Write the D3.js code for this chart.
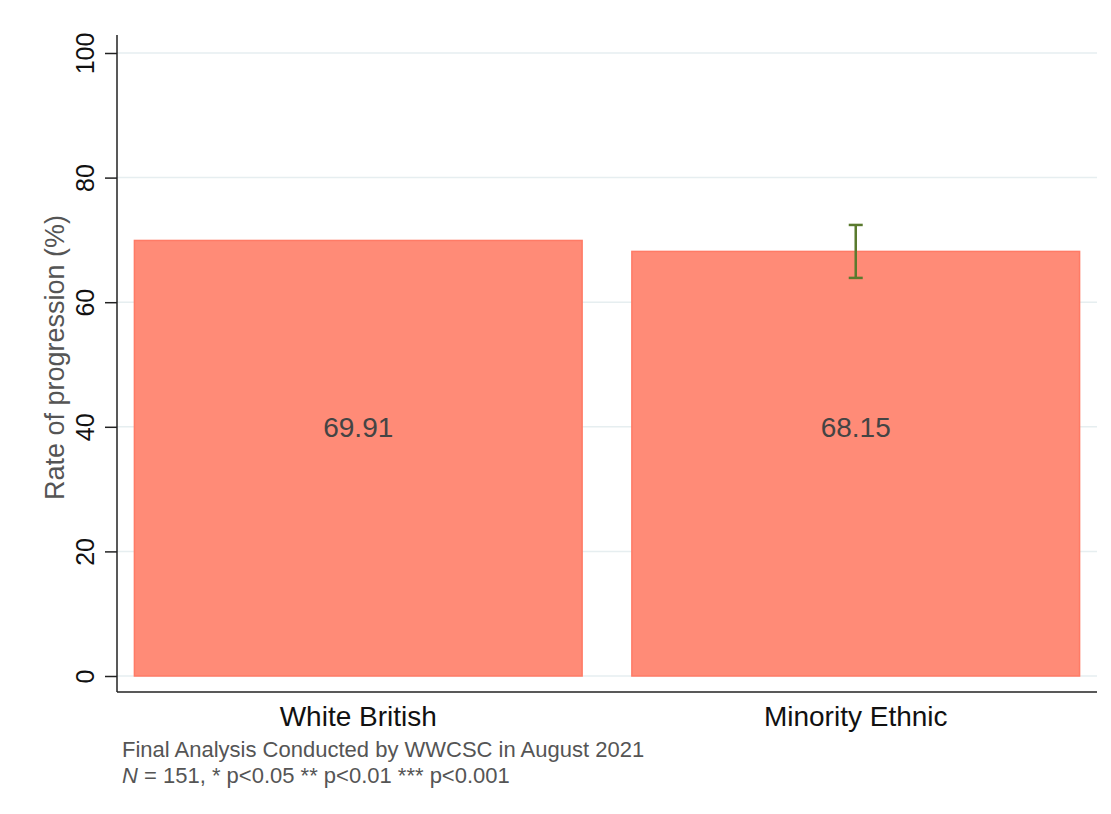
<!DOCTYPE html>
<html>
<head>
<meta charset="utf-8">
<script src="https://cdn.jsdelivr.net/npm/d3@7"></script>
<style>
  body { margin: 0; background: #fff; }
  text { font-family: "Liberation Sans", Arial, sans-serif; }
</style>
</head>
<body>
<svg id="chart" width="1111" height="814"></svg>
<script>
const groups = ["White British", "Minority Ethnic"];
const rates = [69.91, 68.15];
// confidence interval, only the minority group has one drawn
const ciLow = [null, 63.9];
const ciHigh = [null, 72.4];
const yTicks = [0, 20, 40, 60, 80, 100];

const svg = d3.select("#chart");
const plotLeft = 117, plotRight = 1097, plotTop = 53, plotBottom = 676;

const x = d3.scaleBand()
  .domain(groups)
  .range([plotLeft, plotRight])
  .paddingInner(0.1)
  .paddingOuter(0.035);

const y = d3.scaleLinear().domain([0, 100]).range([plotBottom, plotTop]);

// grid
svg.append("g")
  .selectAll("line")
  .data(yTicks)
  .join("line")
    .attr("x1", plotLeft).attr("x2", plotRight)
    .attr("y1", d => y(d)).attr("y2", d => y(d))
    .attr("stroke", "#e6eef0")
    .attr("stroke-width", 1.5);

// bars
svg.append("g")
  .selectAll("rect")
  .data(rates)
  .join("rect")
    .attr("x", (d, i) => x(groups[i]))
    .attr("y", d => y(d))
    .attr("width", x.bandwidth())
    .attr("height", d => y(0) - y(d))
    .attr("fill", "#ff8b77")
    .attr("stroke", "#ff7b66")
    .attr("stroke-width", 1.5);

// value labels
svg.append("g")
  .selectAll("text")
  .data(rates)
  .join("text")
    .attr("x", (d, i) => x(groups[i]) + x.bandwidth() / 2)
    .attr("y", y(40) + 10)
    .attr("text-anchor", "middle")
    .attr("font-size", 28)
    .attr("fill", "#444")
    .text(d => d.toFixed(2));

// error bars
const eb = svg.append("g").attr("stroke", "#5a7a2e").attr("stroke-width", 2.5);
groups.forEach((g, i) => {
  if (ciLow[i] == null) return;
  const cx = x(g) + x.bandwidth() / 2;
  eb.append("line").attr("x1", cx).attr("x2", cx).attr("y1", y(ciLow[i])).attr("y2", y(ciHigh[i]));
  [ciLow[i], ciHigh[i]].forEach(v => {
    eb.append("line").attr("x1", cx - 7).attr("x2", cx + 7).attr("y1", y(v)).attr("y2", y(v));
  });
});

// y axis
const yAxis = svg.append("g")
  .attr("transform", `translate(${plotLeft},0)`)
  .call(d3.axisLeft(y).tickValues(yTicks).tickSize(12).tickPadding(0));
yAxis.select(".domain").attr("d", `M0,35V692`).attr("stroke", "#222").attr("stroke-width", 1.5);
yAxis.selectAll(".tick line").attr("stroke", "#222").attr("stroke-width", 1.5);
yAxis.selectAll(".tick text")
  .attr("transform", "translate(-32,0) rotate(-90)")
  .attr("x", 0).attr("dy", "0.35em")
  .attr("text-anchor", "middle")
  .attr("font-size", 25)
  .attr("fill", "#111");

// x axis line
svg.append("line")
  .attr("x1", plotLeft).attr("x2", plotRight)
  .attr("y1", 692).attr("y2", 692)
  .attr("stroke", "#222").attr("stroke-width", 1.5);

// x labels
svg.append("g")
  .selectAll("text")
  .data(groups)
  .join("text")
    .attr("x", d => x(d) + x.bandwidth() / 2)
    .attr("y", 726)
    .attr("text-anchor", "middle")
    .attr("font-size", 28)
    .attr("fill", "#111")
    .text(d => d);

// y label
svg.append("text")
  .attr("transform", `translate(64,${y(50) - 7}) rotate(-90)`)
  .attr("text-anchor", "middle")
  .attr("font-size", 27)
  .attr("fill", "#555")
  .text("Rate of progression (%)");

// notes
svg.append("text")
  .attr("x", 122).attr("y", 757)
  .attr("font-size", 22)
  .attr("fill", "#555")
  .text("Final Analysis Conducted by WWCSC in August 2021");
const n2 = svg.append("text")
  .attr("x", 122).attr("y", 783)
  .attr("font-size", 22)
  .attr("fill", "#555");
n2.append("tspan").attr("font-style", "italic").text("N");
n2.append("tspan").text(" = 151, * p<0.05 ** p<0.01 *** p<0.001");
</script>
</body>
</html>
